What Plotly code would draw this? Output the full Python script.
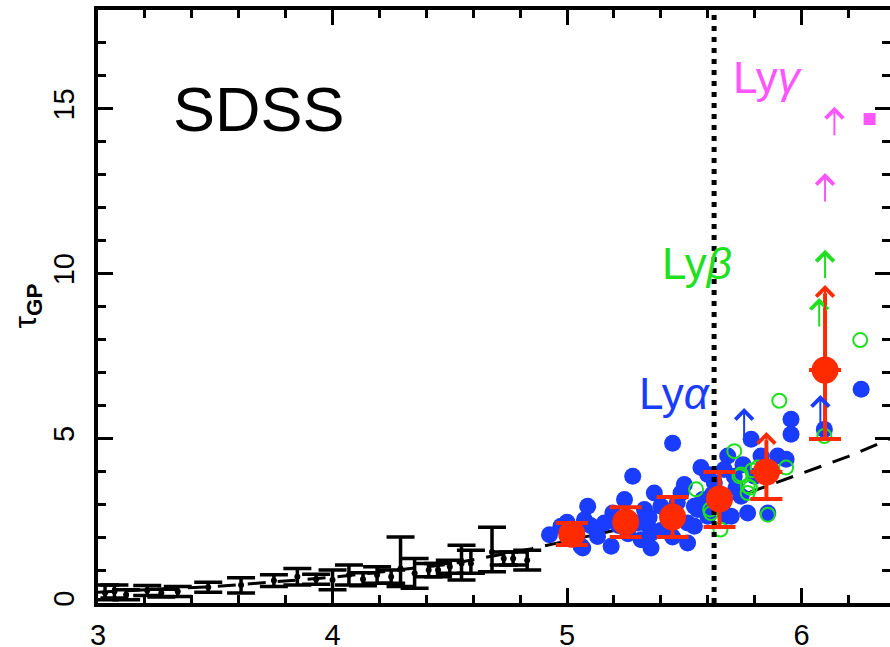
import plotly.graph_objects as go

# ---------------- data ----------------
# low-z measurements (black points with error bars)
black_z = [3.03, 3.07, 3.12, 3.21, 3.27, 3.34, 3.47, 3.61, 3.75, 3.85, 3.93, 4.00, 4.07,
           4.13, 4.19, 4.25, 4.29, 4.35, 4.41, 4.45, 4.50, 4.55, 4.59, 4.68, 4.73, 4.77, 4.83]
black_tau = [0.30, 0.35, 0.25, 0.38, 0.30, 0.35, 0.48, 0.55, 0.68, 0.80, 0.72, 0.70, 0.85,
             0.72, 0.85, 0.80, 1.05, 0.90, 1.00, 1.00, 1.10, 1.20, 1.20, 1.55, 1.35, 1.35, 1.30]
black_err_up = [0.25, 0.20, 0.15, 0.15, 0.12, 0.15, 0.15, 0.22, 0.18, 0.25, 0.15, 0.30, 0.30,
                0.20, 0.25, 0.20, 0.95, 0.45, 0.20, 0.20, 0.20, 0.55, 0.40, 0.75, 0.20, 0.20, 0.30]
black_err_dn = [0.20, 0.20, 0.15, 0.15, 0.12, 0.15, 0.15, 0.25, 0.18, 0.25, 0.15, 0.30, 0.30,
                0.20, 0.25, 0.20, 0.55, 0.45, 0.20, 0.20, 0.20, 0.50, 0.30, 0.60, 0.20, 0.20, 0.30]

# individual SDSS quasars, Ly-alpha (blue filled)
blue_z = [4.925, 4.974, 5.06, 5.088, 5.074, 5.124, 5.159, 5.195, 5.245, 5.28, 5.30, 5.33,
          5.358, 5.372, 5.40, 5.43, 5.45, 5.486, 5.50, 5.514, 5.543, 5.571, 5.578, 5.60,
          5.628, 5.685, 5.67, 5.678, 5.713, 5.742, 5.77, 5.785, 5.80, 5.827, 5.856, 5.898,
          5.934, 5.955, 5.955, 6.097, 6.254, 5.067, 5.343, 5.358, 5.188, 5.543, 5.557, 5.316,
          5.13, 5.514, 5.70, 5.00, 5.03, 5.10, 5.22, 5.26, 5.40, 5.45, 5.47, 5.35, 5.62,
          5.66, 5.72, 5.60, 5.75]
blue_tau = [2.07, 2.33, 1.72, 2.94, 2.53, 2.23, 2.43, 2.73, 3.14, 3.85, 2.43, 2.84,
            2.12, 3.34, 2.94, 2.63, 4.85, 3.34, 3.60, 2.43, 2.94, 4.11, 3.14, 2.63,
            3.65, 4.46, 4.05, 2.63, 3.85, 3.24, 2.73, 4.97, 3.85, 4.46, 2.73, 4.46,
            4.36, 5.58, 5.12, 5.27, 6.49, 1.67, 2.38, 1.67, 1.72, 2.33, 2.84, 1.92,
            2.02, 1.82, 2.63, 2.45, 2.10, 2.35, 2.35, 2.10, 2.20, 2.00, 3.05, 2.60, 3.30,
            2.95, 3.50, 3.90, 4.20]

# Ly-beta (green open)
green_z = [5.55, 5.713, 5.735, 5.77, 5.77, 5.813, 5.934, 5.905, 6.097, 5.856, 5.654,
           5.614, 6.25, 5.742, 5.61, 5.78, 5.79]
green_tau = [3.45, 4.61, 3.85, 3.55, 3.34, 4.11, 4.11, 6.14, 5.07, 2.68, 2.23,
             2.73, 7.98, 3.90, 2.84, 3.50, 4.03]

# Ly-gamma (magenta square)
magenta_z = [6.29]
magenta_tau = [14.69]

# binned averages (red)
red_z = [5.02, 5.25, 5.45, 5.65, 5.85, 6.10]
red_tau = [2.09, 2.46, 2.61, 3.16, 3.98, 7.07]
red_err_up = [0.34, 0.45, 0.61, 0.82]          # first four bins (two-sided bars)
red_err_dn = [0.33, 0.46, 0.61, 0.85, 0.82, 2.09]
red_limit_top = [5.19, 9.65]                   # last two bins: lower limits (arrows)

# lower limits (arrows)
blue_arrow_z = [5.755, 6.08]
blue_arrow_from = [5.01, 5.25]
blue_arrow_to = [5.92, 6.31]
green_arrow_z = [6.075, 6.10]
green_arrow_from = [8.35, 9.81]
green_arrow_to = [9.26, 10.72]
magenta_arrow_z = [6.10, 6.14]
magenta_arrow_from = [12.14, 14.15]
magenta_arrow_to = [13.05, 15.06]

# power-law fit (dashed)
fit_z = [3.0, 3.5, 4.0, 4.5, 4.85, 5.2, 5.6, 5.95, 6.2, 6.377]
fit_tau = [0.33, 0.50, 0.78, 1.18, 1.65, 2.20, 2.90, 3.80, 4.45, 4.98]

z_reion = 5.627

x_ticks = [3, 4, 5, 6]
y_ticks = [0, 5, 10, 15]

# ---------------- colours ----------------
BLUE = "#1a3cff"
GREEN = "#1fe01f"
MAGENTA = "#ff55ff"
RED = "#ff2a00"
FONT = "Liberation Sans, Arial, sans-serif"

fig = go.Figure()

# dashed fit
fig.add_trace(go.Scatter(x=fit_z, y=fit_tau, mode="lines",
                         line=dict(color="black", width=3, dash="18px,12px"),
                         hoverinfo="skip", showlegend=False))

# black low-z points
fig.add_trace(go.Scatter(x=black_z, y=black_tau, mode="markers",
                         marker=dict(color="black", size=6),
                         error_y=dict(type="data", symmetric=False, array=black_err_up,
                                      arrayminus=black_err_dn, color="black",
                                      thickness=3.5, width=14),
                         showlegend=False))

# blue Ly-alpha
fig.add_trace(go.Scatter(x=blue_z, y=blue_tau, mode="markers",
                         marker=dict(color=BLUE, size=17, line=dict(width=0)),
                         showlegend=False))

# green Ly-beta
fig.add_trace(go.Scatter(x=green_z, y=green_tau, mode="markers",
                         marker=dict(symbol="circle-open", color=GREEN, size=14,
                                     line=dict(width=2, color=GREEN)),
                         showlegend=False))

# magenta Ly-gamma
fig.add_trace(go.Scatter(x=magenta_z, y=magenta_tau, mode="markers",
                         marker=dict(symbol="square", color=MAGENTA, size=12),
                         showlegend=False))

# vertical dotted line
fig.add_trace(go.Scatter(x=[z_reion, z_reion], y=[0, 18], mode="lines",
                         line=dict(color="black", width=5, dash="5px,6px"),
                         hoverinfo="skip", showlegend=False))

# red binned points: two-sided bars
n2 = len(red_err_up)
fig.add_trace(go.Scatter(x=red_z[:n2], y=red_tau[:n2], mode="markers",
                         marker=dict(color=RED, size=27),
                         error_y=dict(type="data", symmetric=False, array=red_err_up,
                                      arrayminus=red_err_dn[:n2], color=RED,
                                      thickness=4, width=16),
                         showlegend=False))
# red limits: lower bar + shaft
lim_z = red_z[n2:]
lim_tau = red_tau[n2:]
shaft_x, shaft_y = [], []
for zz, tt, top in zip(lim_z, lim_tau, red_limit_top):
    shaft_x += [zz, zz, None]
    shaft_y += [tt, top - 0.25, None]
fig.add_trace(go.Scatter(x=shaft_x, y=shaft_y, mode="lines",
                         line=dict(color=RED, width=4), hoverinfo="skip", showlegend=False))
fig.add_trace(go.Scatter(x=lim_z, y=lim_tau, mode="markers",
                         marker=dict(color=RED, size=27),
                         error_y=dict(type="data", symmetric=False, array=[0] * len(lim_z),
                                      arrayminus=red_err_dn[n2:], color=RED,
                                      thickness=4, width=16),
                         showlegend=False))

# invisible trace for right-hand tick axis
fig.add_trace(go.Scatter(x=[3], y=[0], yaxis="y2", mode="markers",
                         marker=dict(opacity=0), hoverinfo="skip", showlegend=False))

annotations = []


def add_arrows(zs, froms, tos, color, width=2):
    for zz, a, b in zip(zs, froms, tos):
        annotations.append(dict(x=zz, y=b, ax=zz, ay=a, xref="x", yref="y",
                                axref="x", ayref="y", text="", showarrow=True,
                                arrowhead=4, arrowsize=1.7, arrowwidth=width,
                                arrowcolor=color))


add_arrows(blue_arrow_z, blue_arrow_from, blue_arrow_to, BLUE)
add_arrows(green_arrow_z, green_arrow_from, green_arrow_to, GREEN)
add_arrows(magenta_arrow_z, magenta_arrow_from, magenta_arrow_to, MAGENTA)
add_arrows(lim_z, [t - 0.8 for t in red_limit_top], red_limit_top, RED)

# labels
annotations.append(dict(x=3.687, y=15.0, xref="x", yref="y", text="SDSS",
                        showarrow=False, font=dict(family=FONT, size=63, color="black"),
                        xanchor="center", yanchor="middle"))
annotations.append(dict(x=5.46, y=6.35, xref="x", yref="y", text="Ly<i>α</i>",
                        showarrow=False, font=dict(family=FONT, size=44, color=BLUE),
                        xanchor="center", yanchor="middle"))
annotations.append(dict(x=5.556, y=10.3, xref="x", yref="y", text="Ly<i>β</i>",
                        showarrow=False, font=dict(family=FONT, size=44, color=GREEN),
                        xanchor="center", yanchor="middle"))
annotations.append(dict(x=5.857, y=15.95, xref="x", yref="y", text="Ly<i>γ</i>",
                        showarrow=False, font=dict(family=FONT, size=44, color=MAGENTA),
                        xanchor="center", yanchor="middle"))
# y axis title
annotations.append(dict(x=-0.0896, y=0.50, xref="paper", yref="paper",
                        text="τ<sub><b>GP</b></sub>", textangle=-90, showarrow=False,
                        font=dict(family=FONT, size=32, color="black"),
                        xanchor="center", yanchor="middle"))

axis_common = dict(showgrid=False, zeroline=False, ticks="inside", tickwidth=3,
                   tickcolor="black", ticklen=15, automargin=False)

fig.update_layout(
    width=890, height=647,
    margin=dict(l=98, r=0, t=10, b=44, autoexpand=False),
    plot_bgcolor="white", paper_bgcolor="white",
    showlegend=False,
    annotations=annotations,
    xaxis=dict(range=[3, 6.377], tickvals=x_ticks, ticktext=[str(v) for v in x_ticks],
               showline=True, linewidth=4, linecolor="black", mirror="ticks",
               tickfont=dict(family=FONT, size=29, color="black"),
               ticklabelstandoff=3,
               minor=dict(ticks="inside", ticklen=8, tickwidth=3, tickcolor="black",
                          dtick=0.2, tick0=3),
               **axis_common),
    yaxis=dict(range=[0, 18], tickvals=y_ticks, ticktext=[str(v) for v in y_ticks],
               showline=True, linewidth=4, linecolor="black", mirror=False,
               tickangle=-90,
               tickfont=dict(family=FONT, size=29, color="black"),
               ticklabelstandoff=8,
               minor=dict(ticks="inside", ticklen=8, tickwidth=3, tickcolor="black",
                          dtick=1, tick0=0),
               **axis_common),
    yaxis2=dict(range=[0, 18], overlaying="y", side="right", showline=False,
                tickvals=y_ticks, showticklabels=False,
                minor=dict(ticks="inside", ticklen=8, tickwidth=3, tickcolor="black",
                           dtick=1, tick0=0),
                **axis_common),
)

fig.write_html("out.html",
               config={"displayModeBar": False, "staticPlot": True},
               post_script="document.body.style.margin='0';"
                           "document.body.style.overflow='hidden';")
